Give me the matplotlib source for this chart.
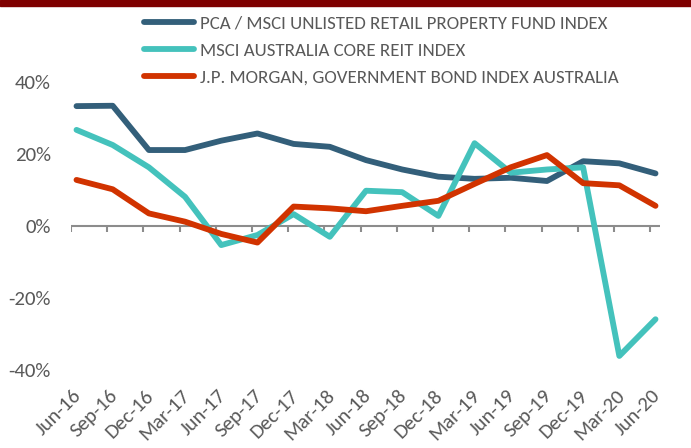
import matplotlib
matplotlib.use("Agg")
import matplotlib.pyplot as plt
import matplotlib.transforms as mtransforms
from matplotlib.patches import Rectangle
import numpy as np

plt.rcParams['font.family'] = ['Carlito', 'DejaVu Sans']

categories = ["Jun-16", "Sep-16", "Dec-16", "Mar-17", "Jun-17", "Sep-17", "Dec-17",
              "Mar-18", "Jun-18", "Sep-18", "Dec-18", "Mar-19", "Jun-19", "Sep-19",
              "Dec-19", "Mar-20", "Jun-20"]
pca_unlisted = [33.3, 33.4, 21.1, 21.1, 23.7, 25.7, 22.8, 22.0, 18.3, 15.7, 13.7, 13.1,
                13.4, 12.5, 18.0, 17.4, 14.6]
msci_reit = [26.7, 22.5, 16.3, 8.1, -5.3, -2.5, 3.3, -3.0, 9.8, 9.4, 2.8, 23.0,
             14.8, 15.7, 16.3, -36.1, -25.9]
jpm_bond = [12.8, 10.2, 3.5, 1.2, -2.2, -4.6, 5.4, 4.9, 4.1, 5.6, 7.0, 11.7,
            16.3, 19.7, 11.9, 11.3, 5.6]
series_names = ["PCA / MSCI UNLISTED RETAIL PROPERTY FUND INDEX",
                "MSCI AUSTRALIA CORE REIT INDEX",
                "J.P. MORGAN, GOVERNMENT BOND INDEX AUSTRALIA"]
yticks = [-40, -20, 0, 20, 40]

colors = ["#335F7A", "#44C2BC", "#D13300"]
text_color = "#595959"
axis_color = "#8C8C8C"

W, H = 691, 448
fig = plt.figure(figsize=(W / 100, H / 100), dpi=100)
fig.patches.append(Rectangle((0, 1 - 6 / H), 1, 6 / H, transform=fig.transFigure,
                             color="#7F0000", zorder=0))

left, right = 71 / W, 660 / W
bottom, top = (H - 370) / H, (H - 82) / H
ax = fig.add_axes([left, bottom, right - left, top - bottom])

x = np.arange(len(categories))
lines = []
for vals, c, name in zip([pca_unlisted, msci_reit, jpm_bond], colors, series_names):
    ln, = ax.plot(x, vals, color=c, lw=4.2, solid_capstyle='round',
                  solid_joinstyle='round', label=name, zorder=3)
    lines.append(ln)

ax.set_ylim(-40, 40)
ax.set_xlim(-0.152, 16.124)
for s in ax.spines.values():
    s.set_visible(False)

# zero axis line with tick marks
ax.axhline(0, color=axis_color, lw=1.5, zorder=1)
ax.plot(x - 0.15, np.zeros(len(x)), linestyle='none', marker=3, markersize=4.5,
        markeredgewidth=1.5, color=axis_color, zorder=1)

ax.set_yticks(yticks)
ax.set_yticklabels([f"{v}%" for v in yticks])
ax.tick_params(axis='y', length=0, pad=14.5, labelsize=15, labelcolor=text_color)

ax.set_xticks(x)
ax.set_xticklabels(categories, rotation=45, ha='right', va='center', rotation_mode='anchor')
ax.tick_params(axis='x', length=0, pad=0, labelsize=15, labelcolor=text_color)
offset = mtransforms.ScaledTranslation(2 / 100, -23 / 100, fig.dpi_scale_trans)
for lab in ax.get_xticklabels():
    lab.set_transform(lab.get_transform() + offset)

leg = fig.legend(handles=lines, loc='upper left', bbox_to_anchor=(144 / W, 1 - 15.5 / H),
                 frameon=False, fontsize=13.6, handlelength=2.65, handletextpad=0.32,
                 labelspacing=0.56, borderaxespad=0, borderpad=0)
for t in leg.get_texts():
    t.set_color(text_color)

fig.savefig("out.png", dpi=100)
